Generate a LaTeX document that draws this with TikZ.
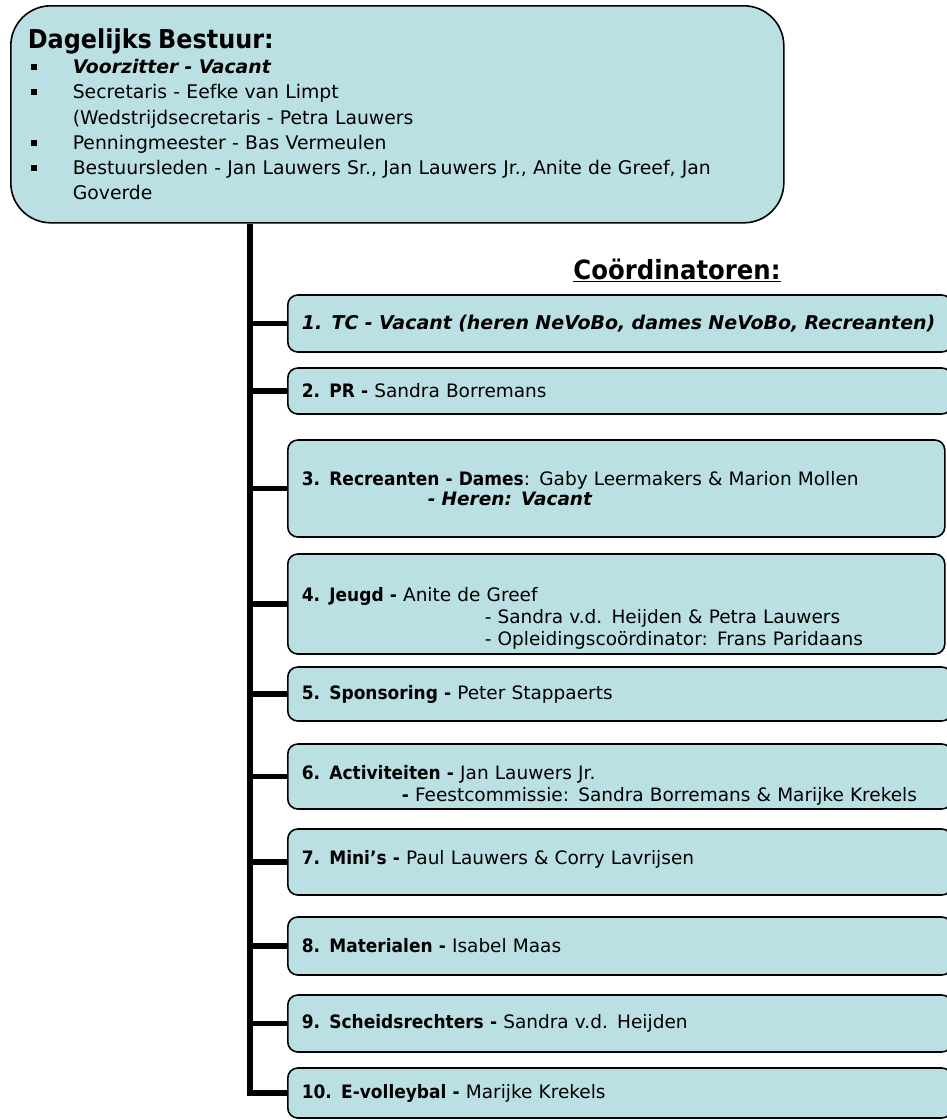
\documentclass[tikz,border=0pt]{standalone}
\usepackage{fontspec}
\setmainfont{DejaVu Sans}[BoldFeatures={FakeStretch=0.92}]
\usetikzlibrary{positioning}
\definecolor{vakblauw}{RGB}{187,224,227}
\newcommand{\blok}{\makebox[45pt][l]{\hspace{3pt}\raisebox{3.5pt}{\rule{6pt}{6pt}}}}
\tikzset{
  hoofdbox/.style={draw,line width=1.6pt,fill=vakblauw,rounded corners=40pt,anchor=north west,
    minimum height=217pt,text width=739pt,inner xsep=17pt,align=left,font=\fontsize{18.8}{25.3}\selectfont},
  cbox/.style={draw,line width=1.6pt,fill=vakblauw,rounded corners=10pt,anchor=west,
    text width=636pt,inner xsep=14pt,align=left,font=\fontsize{18.5}{22}\selectfont},
  tak/.style={line width=5.5pt},
}
\begin{document}
\begin{tikzpicture}[x=1pt,y=-1pt]
\path[fill=white,use as bounding box] (0,0) rectangle (946,1120);
% dagelijks bestuur
\node[hoofdbox] (db) at (10,5) {{\fontsize{26}{27}\selectfont\bfseries Dagelijks Bestuur:}\\
\blok\textbf{\textit{Voorzitter - Vacant}}\\
\blok Secretaris - Eefke van Limpt\\
\hspace*{45pt}(Wedstrijdsecretaris - Petra Lauwers\\
\blok Penningmeester - Bas Vermeulen\\
\blok Bestuursleden - Jan Lauwers Sr., Jan Lauwers Jr., Anite de Greef, Jan\\
\hspace*{45pt}Goverde};
\node[font=\fontsize{26.5}{29}\selectfont\bfseries] (coord) at (677,270) {\underline{Coördinatoren:}};
% coordinatoren
\node[cbox,minimum height=57pt,font=\fontsize{19}{22}\selectfont] (c1) at (287,323.5) {\textbf{\textit{1. TC - Vacant (heren NeVoBo, dames NeVoBo, Recreanten)}}};
\node[cbox,minimum height=46pt] (c2) at (287,391) {\textbf{2. PR -} Sandra Borremans};
\node[cbox,minimum height=97pt,text width=629pt,font=\fontsize{18.5}{19.5}\selectfont] (c3) at (287,488.5) {\textbf{3. Recreanten - Dames}: Gaby Leermakers \& Marion Mollen\\
\hspace*{126pt}\textbf{\textit{- Heren: Vacant}}};
\node[cbox,minimum height=100pt,text width=629pt] (c4) at (287,604) {\rule{0pt}{42pt}\textbf{4. Jeugd -} Anite de Greef\\
\hspace*{183pt}- Sandra v.d. Heijden \& Petra Lauwers\\
\hspace*{183pt}- Opleidingscoördinator: Frans Paridaans};
\node[cbox,minimum height=54pt] (c5) at (287,694) {\textbf{5. Sponsoring -} Peter Stappaerts};
\node[cbox,minimum height=65pt] (c6) at (287,776.5) {\rule{0pt}{31pt}\textbf{6. Activiteiten -} Jan Lauwers Jr.\\
\hspace*{100pt}\textbf{-} Feestcommissie: Sandra Borremans \& Marijke Krekels};
\node[cbox,minimum height=66pt] (c7) at (287,862) {\textbf{7. Mini’s -} Paul Lauwers \& Corry Lavrijsen\rule[-9pt]{0pt}{0pt}};
\node[cbox,minimum height=58pt] (c8) at (287,946) {\textbf{8. Materialen -} Isabel Maas};
\node[cbox,minimum height=57pt] (c9) at (287,1023.5) {\textbf{9. Scheidsrechters -} Sandra v.d. Heijden};
\node[cbox,minimum height=50pt] (c10) at (287,1093) {\textbf{10. E-volleybal -} Marijke Krekels};
% lijnen
\coordinate (t0) at (db.south -| 250,0);
\draw[tak] (t0) -- (c10.west -| t0) -- (c10.west);
\foreach \k in {1,...,9}
  \draw[tak] (c\k.west -| t0) -- (c\k.west);
\end{tikzpicture}
\end{document}
